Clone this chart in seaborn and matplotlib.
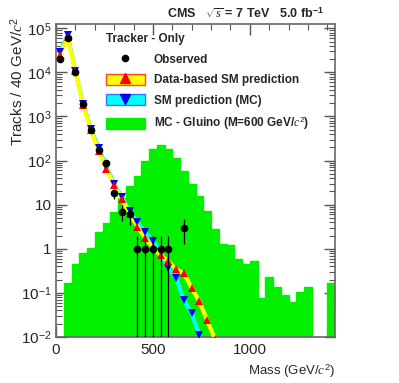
import numpy as np
import matplotlib
matplotlib.use("Agg")
import matplotlib.pyplot as plt
from matplotlib.lines import Line2D
from matplotlib.patches import Patch
from matplotlib.ticker import FixedLocator, FixedFormatter, MultipleLocator, LogLocator, NullFormatter
import seaborn as sns

## Values (40 GeV bins)
mass_centers = [20, 60, 100, 140, 180, 220, 260, 300, 340, 380, 420,
                460, 500, 540, 580, 620, 660, 700, 740, 780, 820]
data_pred = [2.45e4, 6.3e4, 1.05e4, 1.8e3, 490, 167, 65, 28, 13.5, 6.2, 3.2,
             1.75, 1.08, 0.71, 0.52, 0.34, 0.28, 0.13, 0.064, 0.024, 0.009]
mc_pred = [2.95e4, 6.9e4, 1.07e4, 1.9e3, 520, 190, 73, 30, 14.7, 7.1, 4.0,
           2.4, 1.5, 0.85, 0.36, 0.22, 0.068, 0.035, 0.011, 0.004, 0.0015]

obs_mass = [20, 60, 100, 140, 180, 220, 260, 300, 340, 380, 420, 460, 500, 540, 580, 660]
obs_tracks = [2.0e4, 6.1e4, 1.02e4, 1.9e3, 490, 174, 88, 18, 7, 6, 1, 1, 1, 1, 1, 3]

gluino_edges = list(range(0, 1441, 40))
gluino_tracks = [0, 0.17, 0.46, 0.82, 1.03, 2.35, 3.8, 6.7, 14, 27, 45, 100,
                 185, 230, 182, 112, 59, 29, 16, 7.3, 2.8, 1.3, 1.25, 0.59,
                 0.46, 0.53, 0.075, 0.23, 0.137, 0.089, 0.062, 0.105, 0.137,
                 0, 0, 0.17]

ytick_vals = [1e-2, 1e-1, 1, 10, 1e2, 1e3, 1e4, 1e5]
ytick_labels = ["$10^{-2}$", "$10^{-1}$", "1", "10", "$10^{2}$", "$10^{3}$", "$10^{4}$", "$10^{5}$"]

GREEN = "#00f000"
W, H = 399, 383

sns.set_theme(style="ticks")
plt.rcParams["font.family"] = ["Liberation Sans", "DejaVu Sans"]
plt.rcParams["mathtext.fontset"] = "custom"
plt.rcParams["mathtext.rm"] = "Liberation Sans"
plt.rcParams["mathtext.it"] = "Liberation Serif:italic"
plt.rcParams["mathtext.bf"] = "Liberation Sans:bold"

fig = plt.figure(figsize=(W / 100, H / 100), dpi=100)
ax = fig.add_axes([56 / W, 1 - 337 / H, (335 - 56) / W, (337 - 24) / H])

# signal histogram
centers = [(a + b) / 2 for a, b in zip(gluino_edges[:-1], gluino_edges[1:])]
sns.histplot(x=centers, weights=gluino_tracks, bins=gluino_edges, element="step",
             fill=True, color=GREEN, alpha=1, linewidth=1, edgecolor=GREEN, ax=ax, zorder=1)

# prediction bands
sns.lineplot(x=mass_centers, y=mc_pred, color="#00ffff", linewidth=3, ax=ax, zorder=2)
sns.lineplot(x=mass_centers, y=data_pred, color="#ffff00", linewidth=3, ax=ax, zorder=3)
ax.plot(mass_centers, mc_pred, "v", color="#0000ff", markersize=5.5, markeredgewidth=0, zorder=4)
ax.plot(mass_centers, data_pred, "^", color="#ff0000", markersize=5.5, markeredgewidth=0, zorder=5)

# observed with sqrt(N) errors
obs = np.array(obs_tracks, dtype=float)
err = np.sqrt(obs)
lo = np.minimum(err, obs - 1e-4)
ax.errorbar(obs_mass, obs, yerr=[lo, err], fmt="o", color="black", markersize=4.5,
            elinewidth=0.9, capsize=0, zorder=6)

ax.set_yscale("log")
ax.set_xlim(0, 1440)
ax.set_ylim(1e-2, 1.25e5)

ax.yaxis.set_major_locator(FixedLocator(ytick_vals))
ax.yaxis.set_major_formatter(FixedFormatter(ytick_labels))
ax.yaxis.set_minor_locator(LogLocator(base=10, subs=np.arange(2, 10), numticks=20))
ax.yaxis.set_minor_formatter(NullFormatter())
ax.xaxis.set_major_locator(FixedLocator([0, 500, 1000]))
ax.xaxis.set_minor_locator(MultipleLocator(100))

ax.tick_params(which="both", direction="in", top=True, right=True, color="#555555", labelsize=11)
ax.tick_params(axis="y", which="major", length=8, width=1, pad=3)
ax.tick_params(axis="y", which="minor", length=4, width=0.8)
ax.tick_params(axis="x", which="major", length=8, width=1, pad=4)
ax.tick_params(axis="x", which="minor", length=4, width=0.8)
for s in ax.spines.values():
    s.set_color("#666666")
    s.set_linewidth(1.2)

ax.set_ylabel("")
fig.text(17 / W, 1 - 81 / H, "Tracks / 40 GeV/$c^{2}$", fontsize=11,
         rotation=90, ha="center", va="center")
ax.set_xlabel("Mass (GeV/$c^{2}$)", fontsize=9.5, ha="right", va="center")
ax.xaxis.set_label_coords(1.0, -0.108)

fig.text(167 / W, 1 - 14 / H, r"CMS   $\sqrt{s}$ = 7 TeV   5.0 fb$^{\mathbf{-1}}$",
         fontsize=9, fontweight="bold", ha="left", va="center")

handles = [
    Line2D([], [], marker="o", color="black", linestyle="none", markersize=4.5),
    (Patch(facecolor="#ffff00", edgecolor="#ff4422"),
     Line2D([], [], marker="^", color="#ff0000", linestyle="none", markersize=6.5)),
    (Patch(facecolor="#00ffff", edgecolor="#3377ff"),
     Line2D([], [], marker="v", color="#0000ff", linestyle="none", markersize=6.5)),
    Patch(facecolor=GREEN, edgecolor=GREEN),
]
labels = ["Observed", "Data-based SM prediction", "SM prediction (MC)",
          "MC - Gluino (M=600 GeV/$c^{2}$)"]
leg = ax.legend(handles, labels, loc="upper left", bbox_to_anchor=(106 / W, 1 - 33 / H),
                bbox_transform=fig.transFigure, frameon=False, title="Tracker - Only",
                alignment="left", prop={"size": 8.5, "weight": "bold"},
                title_fontproperties={"size": 8.5, "weight": "bold"},
                handlelength=3.3, handleheight=1.05, handletextpad=0.75,
                labelspacing=0.68, borderpad=0, borderaxespad=0)

fig.savefig("out.png", dpi=100)
